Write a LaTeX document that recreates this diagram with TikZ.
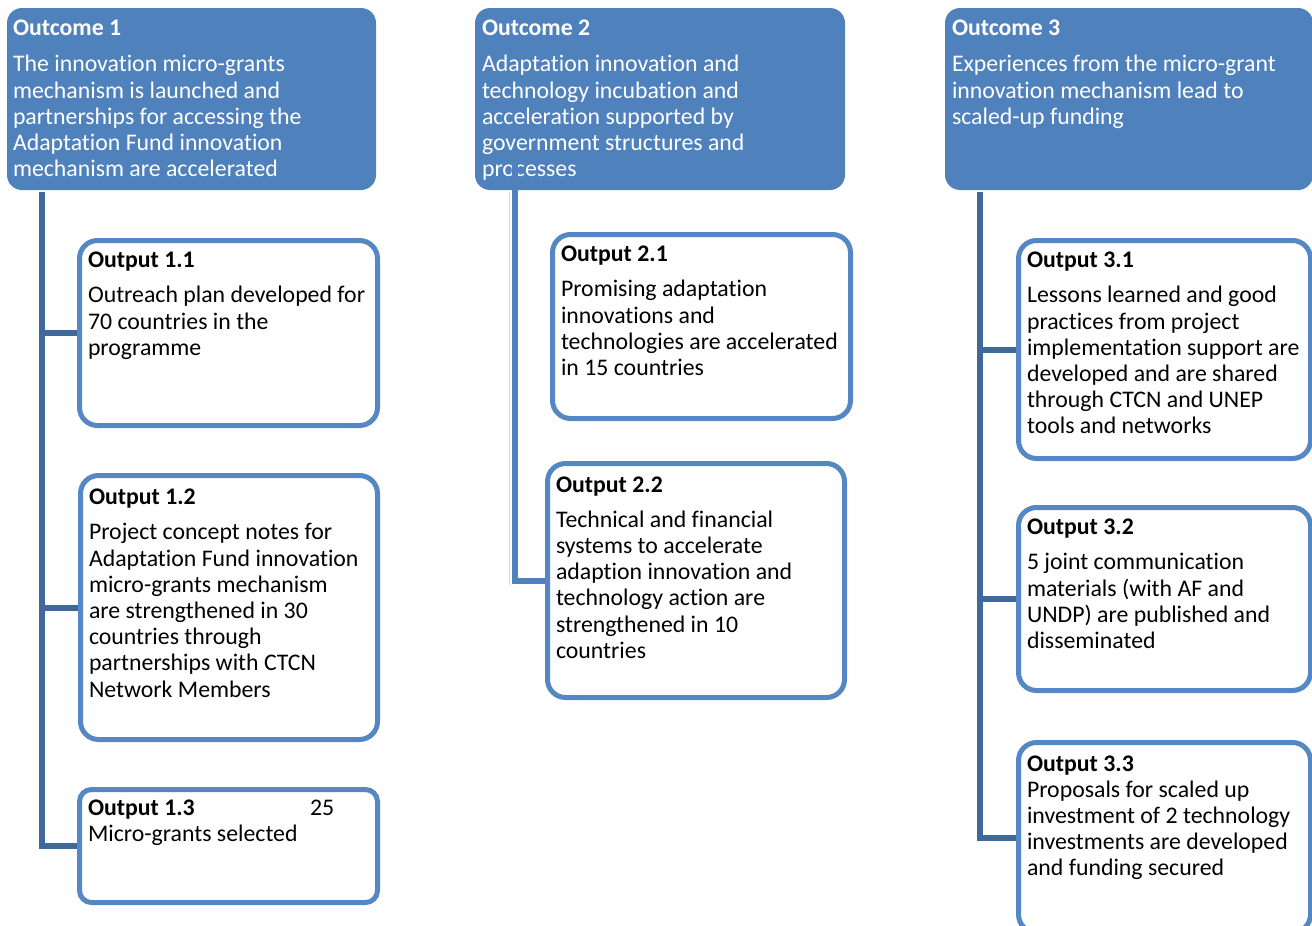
\documentclass[tikz,border=0pt]{standalone}
\usepackage{fontspec}
\setmainfont{Carlito}[Ligatures={NoCommon,NoContextual}]
\usepackage{tikz}

\definecolor{outcomeblue}{HTML}{4F81BD}
\definecolor{outputblue}{HTML}{5587C4}
\definecolor{linkblue}{HTML}{41689B}
\newcommand{\boxfont}{\fontsize{23.8}{26.2}\selectfont}

\begin{document}
\begin{tikzpicture}[x=1pt, y=-1pt,
  every node/.style={anchor=north west, align=left, font=\boxfont},
  outcome/.style={fill=outcomeblue, text=white, rounded corners=15pt, inner xsep=6pt, inner ysep=12pt, outer sep=0pt},
  output/.style={draw=outputblue, line width=5pt, fill=white, rounded corners=18pt, inner xsep=8.5pt, inner ysep=11.5pt},
  link/.style={draw=linkblue, line width=6pt}]
\useasboundingbox (0,0) rectangle (1312,926);
\clip (0,0) rectangle (1312,926);

% outcomes
\node[outcome] (oc1) at (7,8) {\parbox[t][158pt][t]{357pt}{\raggedright\textbf{Outcome 1}\\[10pt]
 The innovation micro-grants\\ mechanism is launched and\\ partnerships for accessing the\\ Adaptation Fund innovation\\ mechanism are accelerated}};
\node[outcome, inner xsep=7pt] (oc2) at (475,8) {\parbox[t][158pt][t]{356pt}{\raggedright\textbf{Outcome 2}\\[10pt]
 Adaptation innovation and\\ technology incubation and\\ acceleration supported by\\ government structures and\\ processes}};
\node[outcome, inner xsep=7pt] (oc3) at (945,8) {\parbox[t][158pt][t]{354pt}{\raggedright\textbf{Outcome 3}\\[10pt]
 Experiences from the micro-grant\\ innovation mechanism lead to\\ scaled-up funding}};

% outputs 1
\node[output] (op11) at (77,238) {\parbox[t][162pt][t]{281pt}{\raggedright\textbf{Output 1.1}\\[9pt]
 Outreach plan developed for\\ 70 countries in the\\ programme}};
\node[output, inner ysep=13.5pt] (op12) at (78,473) {\parbox[t][237pt][t]{280pt}{\raggedright\textbf{Output 1.2}\\[9pt]
 Project concept notes for\\ Adaptation Fund innovation\\ micro-grants mechanism\\ are strengthened in 30\\ countries through\\ partnerships with CTCN\\ Network Members}};
\node[output, rounded corners=12pt, inner ysep=10pt] (op13) at (77,787) {\parbox[t][93pt][t]{281pt}{\raggedright\makebox[222pt][l]{\textbf{Output 1.3}}25\\
 Micro-grants selected}};

% outputs 2
\node[output] (op21) at (550,232) {\parbox[t][161pt][t]{281pt}{\raggedright\textbf{Output 2.1}\\[9pt]
 Promising adaptation\\ innovations and\\ technologies are accelerated\\ in 15 countries}};
\node[output, inner ysep=13pt] (op22) at (545,461) {\parbox[t][208pt][t]{280pt}{\raggedright\textbf{Output 2.2}\\[9pt]
 Technical and financial\\ systems to accelerate\\ adaption innovation and\\ technology action are\\ strengthened in 10\\ countries}};

% outputs 3
\node[output] (op31) at (1016,238) {\parbox[t][195pt][t]{275pt}{\raggedright\textbf{Output 3.1}\\[9pt]
 Lessons learned and good\\ practices from project\\ implementation support are\\ developed and are shared\\ through CTCN and UNEP\\ tools and networks}};
\node[output] (op32) at (1016,505) {\parbox[t][160pt][t]{275pt}{\raggedright\textbf{Output 3.2}\\[9pt]
 5 joint communication\\ materials (with AF and\\ UNDP) are published and\\ disseminated}};
\node[output, inner ysep=13pt] (op33) at (1016,740) {\parbox[t][164pt][t]{275pt}{\raggedright\textbf{Output 3.3}\\
 Proposals for scaled up\\ investment of 2 technology\\ investments are developed\\ and funding secured}};

% connectors
\draw[link] ([xshift=35pt, yshift=-2pt]oc1.south west) |- (op11.west);
\draw[link] ([xshift=35pt, yshift=-2pt]oc1.south west) |- (op12.west);
\draw[link] ([xshift=35pt, yshift=-2pt]oc1.south west) |- (op13.west);

\draw[gray!35, line width=1pt] ([xshift=34pt, yshift=-2pt]oc2.south west) -- ++(0,393);
\draw[link, draw=outcomeblue] ([xshift=40pt, yshift=32pt]oc2.south west) |- (op22.west);

\draw[link] ([xshift=35pt, yshift=-2pt]oc3.south west) |- (op31.west);
\draw[link] ([xshift=35pt, yshift=-2pt]oc3.south west) |- (op32.west);
\draw[link] ([xshift=35pt, yshift=-2pt]oc3.south west) |- (op33.west);
\end{tikzpicture}
\end{document}
